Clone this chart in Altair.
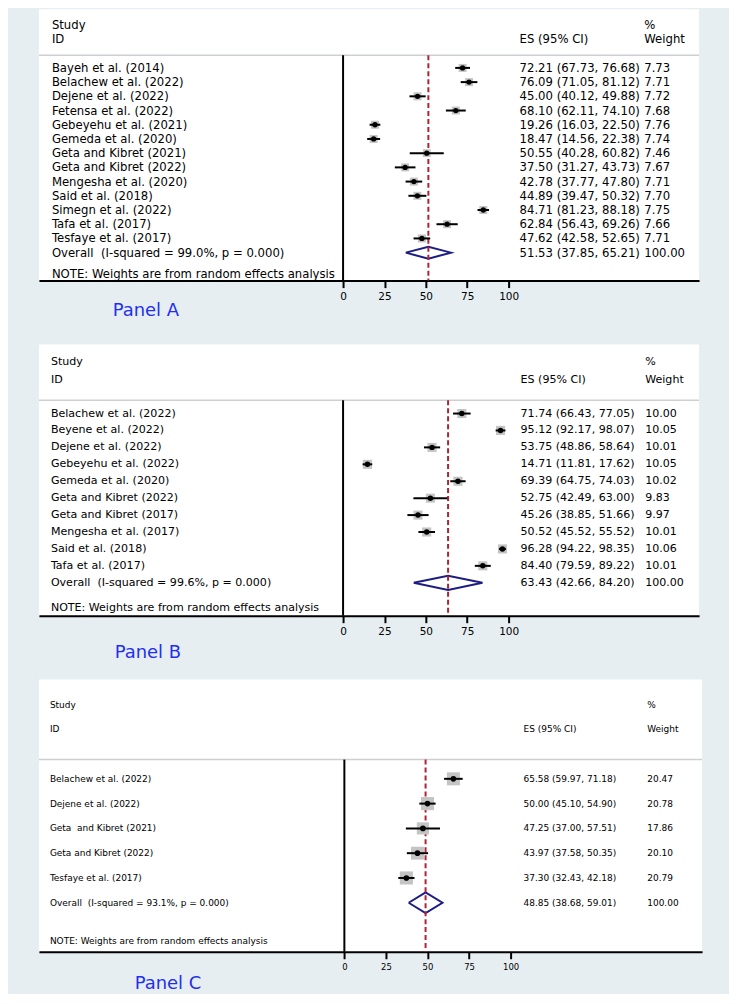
import altair as alt
import pandas as pd

FONT = "DejaVu Sans"
TICKS = [0, 25, 50, 75, 100]

# ---------------- Panel A ----------------
a_study = ["Bayeh et al. (2014)", "Belachew et al. (2022)", "Dejene et al. (2022)",
           "Fetensa et al. (2022)", "Gebeyehu et al. (2021)", "Gemeda et al. (2020)",
           "Geta and Kibret (2021)", "Geta and Kibret (2022)", "Mengesha et al. (2020)",
           "Said et al. (2018)", "Simegn et al. (2022)", "Tafa et al. (2017)",
           "Tesfaye et al. (2017)"]
a_es = [72.21, 76.09, 45.00, 68.10, 19.26, 18.47, 50.55, 37.50, 42.78, 44.89, 84.71, 62.84, 47.62]
a_lo = [67.73, 71.05, 40.12, 62.11, 16.03, 14.56, 40.28, 31.27, 37.77, 39.47, 81.23, 56.43, 42.58]
a_hi = [76.68, 81.12, 49.88, 74.10, 22.50, 22.38, 60.82, 43.73, 47.80, 50.32, 88.18, 69.26, 52.65]
a_w = [7.73, 7.71, 7.72, 7.68, 7.76, 7.74, 7.46, 7.67, 7.71, 7.70, 7.75, 7.66, 7.71]
a_ov_label = "Overall\u00a0 (I-squared = 99.0%, p = 0.000)"
a_ov = [51.53, 37.85, 65.21, 100.00]

# ---------------- Panel B ----------------
b_study = ["Belachew et al. (2022)", "Beyene et al. (2022)", "Dejene et al. (2022)",
           "Gebeyehu et al. (2022)", "Gemeda et al. (2020)", "Geta and Kibret (2022)",
           "Geta and Kibret (2017)", "Mengesha et al. (2017)", "Said et al. (2018)",
           "Tafa et al. (2017)"]
b_es = [71.74, 95.12, 53.75, 14.71, 69.39, 52.75, 45.26, 50.52, 96.28, 84.40]
b_lo = [66.43, 92.17, 48.86, 11.81, 64.75, 42.49, 38.85, 45.52, 94.22, 79.59]
b_hi = [77.05, 98.07, 58.64, 17.62, 74.03, 63.00, 51.66, 55.52, 98.35, 89.22]
b_w = [10.00, 10.05, 10.01, 10.05, 10.02, 9.83, 9.97, 10.01, 10.06, 10.01]
b_ov_label = "Overall\u00a0 (I-squared = 99.6%, p = 0.000)"
b_ov = [63.43, 42.66, 84.20, 100.00]

# ---------------- Panel C ----------------
c_study = ["Belachew et al. (2022)", "Dejene et al. (2022)", "Geta\u00a0 and Kibret (2021)",
           "Geta and Kibret (2022)", "Tesfaye et al. (2017)"]
c_es = [65.58, 50.00, 47.25, 43.97, 37.30]
c_lo = [59.97, 45.10, 37.00, 37.58, 32.43]
c_hi = [71.18, 54.90, 57.51, 50.35, 42.18]
c_w = [20.47, 20.78, 17.86, 20.10, 20.79]
c_ov_label = "Overall\u00a0 (I-squared = 93.1%, p = 0.000)"
c_ov = [48.85, 38.68, 59.01, 100.00]

NOTE = "NOTE: Weights are from random effects analysis"


def panel(study, es, lo, hi, w, ov_label, ov, g, title):
    W, H = g["W"], g["H"]
    n = len(study)
    xs = alt.Scale(domain=[-g["x0"] / g["ppu"], (W - g["x0"]) / g["ppu"]], nice=False, zero=False)
    ys = alt.Scale(domain=[-g["row0"] / g["dy"], (H - g["row0"]) / g["dy"]],
                   reverse=True, nice=False, zero=False)
    xaxis = alt.Axis(values=TICKS, grid=False, title=None, tickSize=7, tickWidth=2,
                     tickColor="black", domainColor="black", domainWidth=2,
                     labelFont=FONT, labelFontSize=g["tfs"], labelColor="black",
                     labelPadding=4, labelFlush=False, labelOverlap=False)

    def X(f):
        return alt.X(f, type="quantitative", scale=xs, axis=xaxis)

    def Y(f):
        return alt.Y(f, type="quantitative", scale=ys, axis=None)

    df = pd.DataFrame({"row": list(range(n)), "study": study, "es": es, "lo": lo, "hi": hi, "w": w})
    rows = pd.DataFrame({
        "row": list(range(n + 1)),
        "study": study + [ov_label],
        "ci": [f"{e:.2f} ({l:.2f}, {h:.2f})" for e, l, h in zip(es + [ov[0]], lo + [ov[1]], hi + [ov[2]])],
        "wt": [f"{x:.2f}" for x in w + [ov[3]]],
    })
    hh = 0.42
    dia = pd.DataFrame({"x": [ov[1], ov[0], ov[2], ov[0], ov[1]],
                        "y": [n, n - hh, n, n + hh, n],
                        "o": [0, 1, 2, 3, 4]})
    ovdf = pd.DataFrame({"es": [ov[0]]})
    zero = pd.DataFrame({"z": [0]})
    one = pd.DataFrame({"k": [0]})
    fs = g["fs"]

    def txt(text, x, y, size=fs, color="black"):
        return alt.Chart(one).mark_text(text=text, align="left", baseline="middle", font=FONT,
                                        fontSize=size, color=color).encode(
            x=alt.value(x), y=alt.value(y))

    sep = alt.Chart(one).mark_rule(color="#cdd0d3", strokeWidth=1.5).encode(
        x=alt.value(0), x2=alt.value(W), y=alt.value(g["sep"]))
    zline = alt.Chart(zero).mark_rule(color="black", strokeWidth=2).encode(
        x=X("z"), y=alt.value(g["sep"]), y2=alt.value(H))
    diamond = alt.Chart(dia).mark_line(color="#1c1c84", strokeWidth=2).encode(
        x=X("x"), y=Y("y"), order="o:Q")
    dline = alt.Chart(ovdf).mark_rule(color="#b22234", strokeWidth=2, strokeDash=[5, 3]).encode(
        x=X("es"), y=alt.value(g["sep"]), y2=alt.value(H))
    boxes = alt.Chart(df).mark_square(color="#c4c4c4", opacity=1, filled=True).encode(
        x=X("es"), y=Y("row"),
        size=alt.Size("w:Q", scale=alt.Scale(domain=[0, 10], range=[0, g["area10"]]), legend=None))
    ci = alt.Chart(df).mark_rule(color="black", strokeWidth=2).encode(
        x=X("lo"), x2=alt.X2("hi"), y=Y("row"))
    dots = alt.Chart(df).mark_circle(color="black", opacity=1, size=g["dot"]).encode(
        x=X("es"), y=Y("row"))
    lab = alt.Chart(rows).mark_text(align="left", baseline="middle", font=FONT, fontSize=fs,
                                    color="black").encode(
        x=alt.value(g["tx"]), y=Y("row"), text="study:N")
    cit = alt.Chart(rows).mark_text(align="left", baseline="middle", font=FONT, fontSize=fs,
                                    color="black").encode(
        x=alt.value(g["ex"]), y=Y("row"), text="ci:N")
    wtt = alt.Chart(rows).mark_text(align="left", baseline="middle", font=FONT, fontSize=fs,
                                    color="black").encode(
        x=alt.value(g["wx"]), y=Y("row"), text="wt:N")

    layers = [sep, zline, diamond, dline, boxes, ci, dots, lab, cit, wtt,
              txt("Study", g["tx"], g["sy"]), txt("ID", g["tx"], g["iy"]),
              txt("ES (95% CI)", g["ex"], g["iy"]),
              txt("%", g["wx"], g["sy"]), txt("Weight", g["wx"], g["iy"]),
              txt(NOTE, g["tx"], g["ny"]),
              txt(title, g["ttx"], g["tty"], size=g["tts"], color="#1f2ff0")]
    return alt.layer(*layers).properties(width=W, height=H)


gA = dict(W=662, H=272, x0=305, ppu=1.66, row0=58.7, dy=14.25, fs=11.7, tfs=10.5,
          tx=13, ex=482, wx=607, sy=16, iy=30, sep=46, ny=265,
          ttx=74, tty=302, tts=18, area10=83, dot=28)
gB = dict(W=662, H=272, x0=305, ppu=1.66, row0=69.3, dy=16.97, fs=11.1, tfs=10.5,
          tx=12, ex=483, wx=608, sy=18, iy=36, sep=56, ny=264,
          ttx=76, tty=309, tts=18, area10=100, dot=30)
gC = dict(W=665, H=273, x0=306.3, ppu=1.667, row0=99.6, dy=24.85, fs=9.0, tfs=8.5,
          tx=11, ex=486, wx=610, sy=25.6, iy=50, sep=80.3, ny=262,
          ttx=96, tty=305, tts=18, area10=32, dot=32)

pA = panel(a_study, a_es, a_lo, a_hi, a_w, a_ov_label, a_ov, gA, "Panel A")
pB = panel(b_study, b_es, b_lo, b_hi, b_w, b_ov_label, b_ov, gB, "Panel B")
pC = panel(c_study, c_es, c_lo, c_hi, c_w, c_ov_label, c_ov, gC, "Panel C")

chart = alt.vconcat(pA, pB, pC, spacing=64, bounds="flush").properties(
    padding={"left": 30, "top": 0, "right": 26, "bottom": 0},
    background="#e6eef2",
).configure_view(fill="white", stroke=None)

chart.save("out.html", embed_options={"renderer": "svg", "actions": False})
